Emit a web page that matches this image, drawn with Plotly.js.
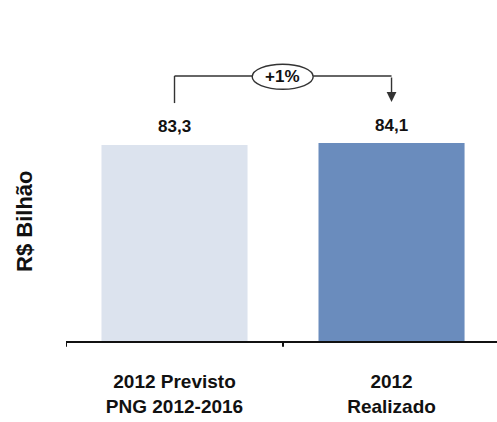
<!DOCTYPE html>
<html>
<head>
<meta charset="utf-8">
<script src="https://cdn.plot.ly/plotly-3.0.1.min.js"></script>
<style>html,body{margin:0;padding:0;background:#fff;}#chart{width:497px;height:422px;}</style>
</head>
<body>
<div id="chart"></div>
<script>
const categories = ["2012 Previsto<br>PNG 2012-2016", "2012<br>Realizado"];
const values = [83.3, 84.1];
const barColors = ["#dce3ee", "#6a8cbd"];
const yTitle = "R$ Bilhão";

const FONT = "Liberation Sans, Arial, sans-serif";
const fmt = v => v.toFixed(1).replace('.', ',');
const pct = Math.round((values[1] / values[0] - 1) * 100);
const pctText = (pct >= 0 ? "+" : "") + pct + "%";

const maxV = Math.max(...values);
const bracketY = maxV + 28.5;
const lineCol = "#333";

const trace = {
  type: "bar",
  x: [0, 1],
  y: values,
  width: 0.673,
  marker: {color: barColors, line: {width: 0}},
  hoverinfo: "none"
};

const annotations = values.map((v, i) => ({
  x: i, y: v, xref: "x", yref: "y",
  text: fmt(v), showarrow: false, yshift: 18,
  font: {family: FONT, size: 17, color: "#111", weight: "bold"}
}));
annotations.push({
  x: 0.4985, y: bracketY, xref: "x", yref: "y",
  text: pctText, showarrow: false,
  font: {family: FONT, size: 17, color: "#111", weight: "bold"}
});
annotations.push({
  x: 1, y: values[1] + 17.5, ax: 1, ay: bracketY, xref: "x", yref: "y", axref: "x", ayref: "y",
  text: "", showarrow: true, arrowhead: 2, arrowsize: 1.4, arrowwidth: 1.4, arrowcolor: lineCol
});
annotations.push({
  x: -0.0951, y: 0.371, xref: "paper", yref: "paper", xanchor: "center", yanchor: "middle",
  text: yTitle, textangle: -90, showarrow: false,
  font: {family: FONT, size: 22, color: "#111", weight: "bold"}
});

const shapes = [
  {type: "line", xref: "x", yref: "y", x0: 0, x1: 0, y0: values[0] + 17.8, y1: bracketY, line: {color: lineCol, width: 1.4}},
  {type: "line", xref: "x", yref: "y", x0: 0, x1: 0.358, y0: bracketY, y1: bracketY, line: {color: lineCol, width: 1.4}},
  {type: "line", xref: "x", yref: "y", x0: 0.639, x1: 1, y0: bracketY, y1: bracketY, line: {color: lineCol, width: 1.4}},
  {type: "circle", xref: "x", yref: "y", x0: 0.358, x1: 0.639, y0: bracketY - 5.6, y1: bracketY + 5.0, line: {color: lineCol, width: 1.4}, fillcolor: "rgba(0,0,0,0)"},
  {type: "line", xref: "x", yref: "paper", x0: -0.5, x1: -0.5, y0: 0, y1: -0.018, line: {color: "#111", width: 2}},
  {type: "line", xref: "x", yref: "paper", x0: 0.5, x1: 0.5, y0: 0, y1: -0.018, line: {color: "#111", width: 2}}
];

const layout = {
  width: 497, height: 422,
  margin: {l: 66, r: 0, t: 20, b: 81},
  paper_bgcolor: "#fff", plot_bgcolor: "#fff",
  showlegend: false,
  xaxis: {
    type: "linear", range: [-0.5, 1.486],
    tickmode: "array", tickvals: [0, 1], ticktext: categories,
    showline: true, linecolor: "#111", linewidth: 2,
    ticks: "", showgrid: false, zeroline: false,
    ticklabelstandoff: 22,
    tickfont: {family: FONT, size: 19, color: "#111", weight: "bold"}
  },
  yaxis: {
    range: [0, 136.4], showticklabels: false, showgrid: false, zeroline: false, showline: false, ticks: ""
  },
  annotations: annotations,
  shapes: shapes
};

Plotly.newPlot("chart", [trace], layout, {displayModeBar: false, staticPlot: true});
</script>
</body>
</html>
